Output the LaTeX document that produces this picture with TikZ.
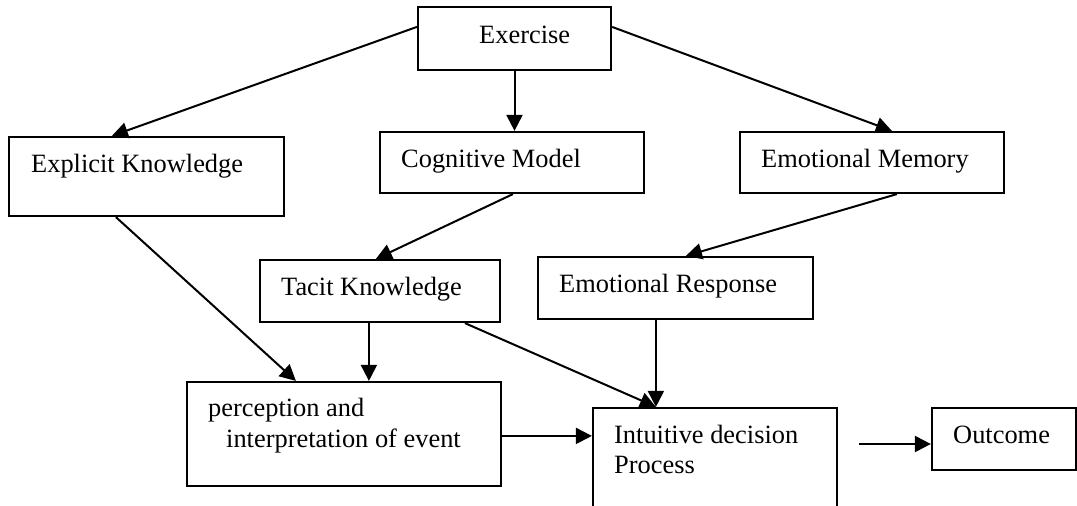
\documentclass[tikz,border=0pt]{standalone}
\usepackage{fontspec}
\setmainfont{Liberation Serif}
\usetikzlibrary{arrows.meta,calc}
\tikzset{
  box/.style={draw=black, line width=2.2pt, inner sep=0pt, rectangle},
  lbl/.style={anchor=base west, inner sep=0pt, font=\fontsize{26.4}{31}\selectfont},
  conn/.style={draw=black, line width=2pt, -{Triangle[length=16pt,width=16pt]}}
}
\begin{document}
\begin{tikzpicture}[x=1pt,y=-1pt]
\useasboundingbox (0,0) rectangle (1077,506);
% boxes
\node[box, minimum width=193pt, minimum height=63pt] (ex) at (514.5,38.5) {};
\node[box, minimum width=275pt, minimum height=79pt] (expl) at (146.5,176.5) {};
\node[box, minimum width=264pt, minimum height=61pt] (cog) at (512,162.5) {};
\node[box, minimum width=264pt, minimum height=61pt] (emem) at (872,162.5) {};
\node[box, minimum width=240pt, minimum height=62pt] (tacit) at (380,291) {};
\node[box, minimum width=275pt, minimum height=62pt] (eresp) at (675.5,288) {};
\node[box, minimum width=314pt, minimum height=104pt] (perc) at (344,434) {};
\node[box, minimum width=244pt, minimum height=112pt] (intu) at (715,464) {};
\node[box, minimum width=144pt, minimum height=62pt] (out) at (1004,439) {};
% texts
\node[lbl] (tex) at (479,43) {Exercise};
\node[lbl] (texpl) at (31,172) {Explicit Knowledge};
\node[lbl] (tcog) at (401,167) {Cognitive Model};
\node[lbl] (temem) at (761,167) {Emotional Memory};
\node[lbl] (ttacit) at (281,295) {Tacit Knowledge};
\node[lbl] (teresp) at (559,292) {Emotional Response};
\node[lbl] (tperc1) at (208,416) {perception and};
\node[lbl] (tperc2) at (226,447) {interpretation of event};
\node[lbl] (tintu1) at (614,443) {Intuitive decision};
\node[lbl] (tintu2) at (614,473) {Process};
\node[lbl] (tout) at (953,443) {Outcome};
% connectors
\draw[conn] ($(ex.north west)+(0,21)$) -- ($(expl.north west)+(104,0)$);
\draw[conn] (ex.south) -- (ex.south |- cog.north);
\draw[conn] ($(ex.north east)+(0,21)$) -- ($(emem.north west)+(153,0)$);
\draw[conn] ($(cog.south west)+(134,0)$) -- ($(tacit.north west)+(117,0)$);
\draw[conn] ($(emem.south west)+(158,0)$) -- ($(eresp.north west)+(149,0)$);
\draw[conn] ($(expl.south west)+(108,0)$) -- ($(perc.north west)+(110,0)$);
\coordinate (tk) at ($(tacit.south west)+(110,0)$);
\draw[conn] (tk) -- (tk |- perc.north);
\draw[conn] ($(tacit.south west)+(206,0)$) -- ($(intu.north west)+(64,0)$);
\coordinate (er) at ($(eresp.south west)+(119,0)$);
\draw[conn] (er) -- (er |- intu.north);
\coordinate (pe) at ($(perc.north east)+(0,55)$);
\draw[conn] (pe) -- (pe -| intu.west);
\coordinate (os) at (859,444);
\draw[conn] (os) -- (os -| out.west);
\end{tikzpicture}
\end{document}
